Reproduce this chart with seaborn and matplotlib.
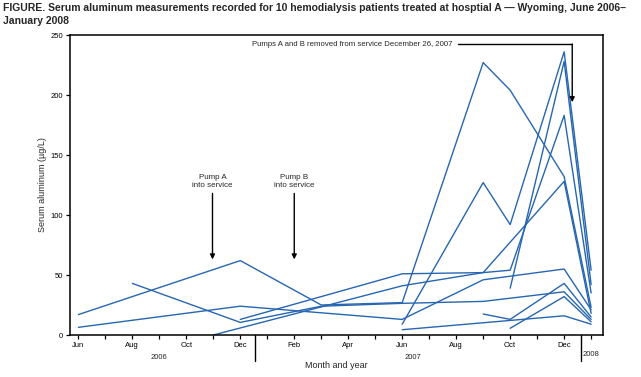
import numpy as np
import pandas as pd
import matplotlib
matplotlib.use("Agg")
import matplotlib.pyplot as plt
import matplotlib.transforms as mtransforms
import seaborn as sns

sns.set_style("ticks")
plt.rcParams["font.family"] = ["Liberation Sans", "DejaVu Sans"]

# months counted from mid-June 2006 (0) to mid-January 2008 (19)
PATIENT_MONTHS = [
    [0, 6, 9, 12, 15, 16, 18, 19],
    [12, 15, 16, 18, 19],
    [6, 12, 15, 16, 18, 19],
    [5, 12, 15, 18, 19],
    [0, 6, 12, 15, 18, 19],
    [2, 6, 9, 12, 15, 18, 19],
    [16, 18, 19],
    [15, 16, 18, 19],
    [16, 18, 19],
    [12, 18, 19],
]
PATIENT_VALUES = [
    [17, 62, 25, 27, 227, 204, 132, 23],
    [9, 127, 92, 236, 54],
    [13, 51, 52, 54, 183, 35],
    [0, 41, 52, 128, 18],
    [6.4, 24, 13, 46, 55, 21],
    [43, 10.5, 24, 26.4, 28, 36, 13],
    [39, 228, 42],
    [17.5, 13, 43, 15],
    [5.6, 32, 11],
    [4.4, 16, 9],
]
MONTH_LABELS = ["Jun", "", "Aug", "", "Oct", "", "Dec", "", "Feb", "", "Apr", "",
                "Jun", "", "Aug", "", "Oct", "", "Dec", ""]
YEAR_LABELS = ["2006", "2007", "2008"]
YEAR_CENTERS = [3.0, 12.4, 18.75]
YEAR_BREAKS = [6.55, 18.63]

rows = []
for pid, (ms, vs) in enumerate(zip(PATIENT_MONTHS, PATIENT_VALUES)):
    for m, v in zip(ms, vs):
        rows.append({"patient": pid, "month": m, "value": v})
df = pd.DataFrame(rows)

BLUE = "#2766b0"

fig = plt.figure(figsize=(6.41, 3.77), dpi=100)
ax = fig.add_axes([70 / 641, 1 - 335 / 377, 533 / 641, 300 / 377])

sns.lineplot(data=df, x="month", y="value", units="patient", estimator=None,
             color=BLUE, lw=1.0, ax=ax, sort=True)

ax.set_xlim(-0.31, 19.44)
ax.set_ylim(0, 250)
ax.set_yticks(np.arange(0, 251, 50))
ax.set_xticks(np.arange(len(MONTH_LABELS)))
ax.set_xticklabels(MONTH_LABELS)
ax.tick_params(axis="both", direction="out", length=3, width=0.9,
               labelsize=5.5, pad=2, colors="black")
for sp in ax.spines.values():
    sp.set_visible(True)
    sp.set_linewidth(1.1)
    sp.set_color("black")

ax.set_ylabel("Serum aluminum (\u00b5g/L)", fontsize=6.5)
ax.yaxis.set_label_coords(-0.043, 0.5)
ax.set_xlabel("Month and year", fontsize=6.5)
ax.xaxis.set_label_coords(0.5, -0.085)

# year separators and year labels
trans = mtransforms.blended_transform_factory(ax.transData, ax.transAxes)
for xb in YEAR_BREAKS:
    ax.plot([xb, xb], [0, -0.085], transform=trans, clip_on=False,
            color="black", lw=1.0)
ax.text(YEAR_CENTERS[0], -0.075, YEAR_LABELS[0], transform=trans,
        ha="center", va="center", fontsize=5.5)
ax.text(YEAR_CENTERS[1], -0.075, YEAR_LABELS[1], transform=trans,
        ha="center", va="center", fontsize=5.5)
ax.text(YEAR_BREAKS[1] + 0.05, -0.065, YEAR_LABELS[2], transform=trans,
        ha="left", va="center", fontsize=5.5)

# pump annotations
arrow = dict(arrowstyle="-|>", color="black", lw=1.0, mutation_scale=7,
             shrinkA=0, shrinkB=0)
for xm, label in [(4.97, "Pump A\ninto service"), (8.0, "Pump B\ninto service")]:
    ax.annotate("", xy=(xm, 63), xytext=(xm, 118), arrowprops=arrow)
    ax.text(xm, 128, label, ha="center", va="center", fontsize=5.8,
            linespacing=1.3)

ax.text(13.85, 242.5, "Pumps A and B removed from service December 26, 2007",
        ha="right", va="center", fontsize=5.6)
ax.plot([14.05, 18.3], [242.5, 242.5], color="black", lw=1.0)
ax.annotate("", xy=(18.3, 194), xytext=(18.3, 242.5), arrowprops=arrow)

fig.text(3 / 641, 1 - 3 / 377,
         "FIGURE. Serum aluminum measurements recorded for 10 hemodialysis patients "
         "treated at hosptial A \u2014 Wyoming, June 2006\u2013\nJanuary 2008",
         ha="left", va="top", fontsize=7.5, fontweight="bold", linespacing=1.35)

fig.savefig("out.png", dpi=100)
